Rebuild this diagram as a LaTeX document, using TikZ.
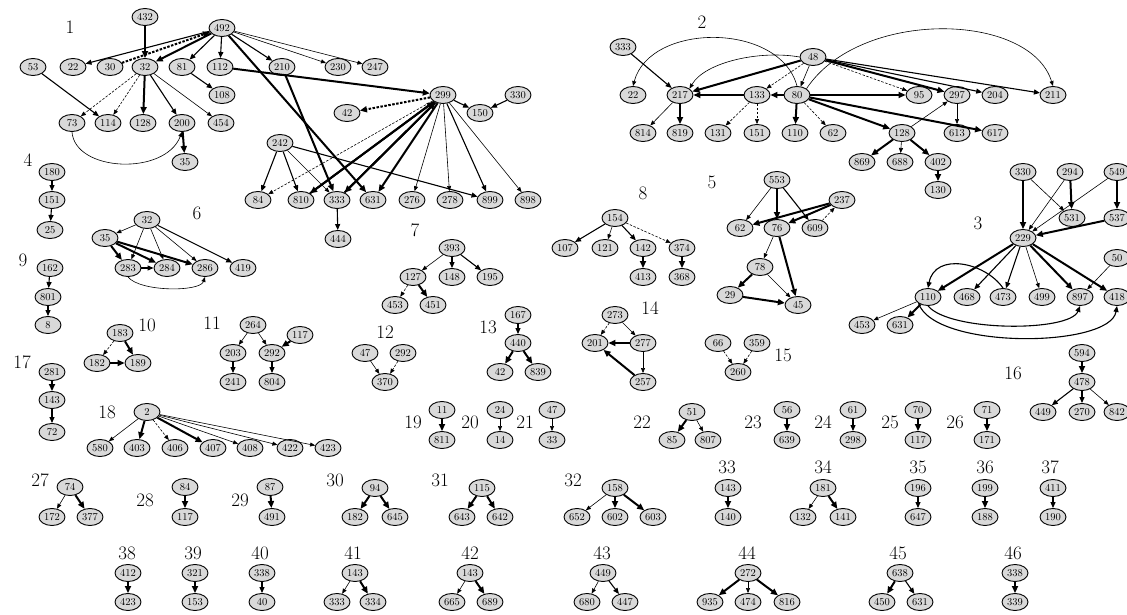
\documentclass[tikz,border=0pt]{standalone}
\usetikzlibrary{shapes.geometric,arrows.meta}
\begin{document}
\begin{tikzpicture}[x=1pt,y=-1pt,
  n/.style={ellipse,draw,line width=0.9pt,fill=gray!30,minimum width=26pt,minimum height=17pt,inner sep=0pt,font=\fontsize{10.5}{10.5}\selectfont},
  lab/.style={inner sep=0pt,font=\fontsize{19}{19}\selectfont},
  e1/.style={-{Triangle[length=5pt,width=4pt]},line width=0.6pt},
  e2/.style={-{Triangle[length=6pt,width=5pt]},line width=1.1pt},
  e3/.style={-{Triangle[length=7pt,width=6pt]},line width=2pt},
  dsh/.style={dash pattern=on 2.5pt off 1.5pt}]
\useasboundingbox[fill=white] (0,0) rectangle (1127,615);
% ---------- component 1
\node[lab] (L1) at (70,27) {1};
\node[n] (a432) at (145,17) {432};
\node[n] (a492) at (222,28) {492};
\node[n] (a53) at (33,67) {53};
\node[n] (a22) at (73,67) {22};
\node[n] (a30) at (110,67) {30};
\node[n] (a32) at (145,67) {32};
\node[n] (a81) at (182,67) {81};
\node[n] (a112) at (220,67) {112};
\node[n] (a210) at (282,67) {210};
\node[n] (a230) at (338,67) {230};
\node[n] (a247) at (375,67) {247};
\node[n] (a108) at (222,95) {108};
\node[n] (a73) at (72,123) {73};
\node[n] (a114) at (108,123) {114};
\node[n] (a128) at (143,123) {128};
\node[n] (a200) at (182,123) {200};
\node[n] (a454) at (221,123) {454};
\node[n] (a35) at (185,162) {35};
\node[n] (a299) at (443,95) {299};
\node[n] (a330) at (518,95) {330};
\node[n] (a150) at (480,113) {150};
\node[n] (a42) at (347,113) {42};
\node[n] (a242) at (280,143) {242};
\node[n] (a84) at (258,200) {84};
\node[n] (a810) at (301,200) {810};
\node[n] (a333) at (337,200) {333};
\node[n] (a631) at (373,200) {631};
\node[n] (a276) at (412,200) {276};
\node[n] (a278) at (450,200) {278};
\node[n] (a899) at (490,200) {899};
\node[n] (a898) at (528,200) {898};
\node[n] (a444) at (338,239) {444};
\draw[e3] (a432) -- (a32);
\draw[e2] (a492) -- (a22);
\draw[e3,dsh] (a30) -- (a492);
\draw[e3] (a492) -- (a32);
\draw[e2] (a492) -- (a81);
\draw[e2] (a492) -- (a112);
\draw[e2] (a492) -- (a210);
\draw[e1] (a492) -- (a230);
\draw[e1] (a492) -- (a247);
\draw[e3] (a492) -- (a631);
\draw[e3] (a210) -- (a333);
\draw[e3] (a112) -- (a299);
\draw[e1,dsh] (a32) -- (a73);
\draw[e1,dsh] (a32) -- (a114);
\draw[e3] (a32) -- (a128);
\draw[e2] (a32) -- (a200);
\draw[e1] (a32) -- (a454);
\draw[e2] (a53) -- (a114);
\draw[e2] (a81) -- (a108);
\draw[e1] (a73.south) .. controls (75,172) and (165,176) .. (a200.south);
\draw[e3] (a200) -- (a35);
\draw[e3,dsh] (a299) -- (a42);
\draw[e2] (a299) -- (a150);
\draw[e2] (a330) -- (a150);
\draw[e1,dsh] (a299) -- (a84);
\draw[e3] (a299) -- (a810);
\draw[e3] (a810) -- (a299);
\draw[e3] (a299) -- (a333);
\draw[e3] (a333) -- (a299);
\draw[e3] (a299) -- (a631);
\draw[e1] (a299) -- (a276);
\draw[e1] (a299) -- (a278);
\draw[e2] (a299) -- (a899);
\draw[e1] (a299) -- (a898);
\draw[e2] (a242) -- (a84);
\draw[e2] (a242) -- (a810);
\draw[e1] (a242) -- (a333);
\draw[e2] (a242) -- (a899);
\draw[e2] (a333) -- (a444);
% ---------- component 2
\node[lab] (L2) at (702,22) {2};
\node[n] (b333) at (623,47) {333};
\node[n] (b48) at (813,57) {48};
\node[n] (b22) at (633,95) {22};
\node[n] (b217) at (680,95) {217};
\node[n] (b133) at (757,95) {133};
\node[n] (b80) at (797,95) {80};
\node[n] (b95) at (919,95) {95};
\node[n] (b297) at (957,95) {297};
\node[n] (b204) at (995,95) {204};
\node[n] (b211) at (1053,95) {211};
\node[n] (b814) at (643,133) {814};
\node[n] (b819) at (680,133) {819};
\node[n] (b131) at (718,133) {131};
\node[n] (b151) at (757,133) {151};
\node[n] (b110) at (795,133) {110};
\node[n] (b62) at (833,133) {62};
\node[n] (b128) at (902,133) {128};
\node[n] (b613) at (957,133) {613};
\node[n] (b617) at (995,133) {617};
\node[n] (b869) at (862,162) {869};
\node[n] (b688) at (900,162) {688};
\node[n] (b402) at (938,162) {402};
\node[n] (b130) at (938,190) {130};
\draw[e2] (b333) -- (b217);
\draw[e3] (b48) -- (b217);
\draw[e1] (b48.west) .. controls (760,50) and (705,62) .. (b217.north east);
\draw[e1] (b80.north) .. controls (780,22) and (650,22) .. (b22.north);
\draw[e1] (b80.north east) .. controls (860,8) and (1030,12) .. (b211.north);
\draw[e1,dsh] (b48) -- (b133);
\draw[e1] (b48) -- (b80);
\draw[e1,dsh] (b48) -- (b95);
\draw[e3] (b48) -- (b297);
\draw[e2] (b48) -- (b204);
\draw[e2] (b48) -- (b211);
\draw[e3] (b133) -- (b217);
\draw[e3] (b80) -- (b133);
\draw[e1] (b217) -- (b814);
\draw[e3] (b217) -- (b819);
\draw[e1,dsh] (b133) -- (b131);
\draw[e1,dsh] (b133) -- (b151);
\draw[e3] (b80) -- (b110);
\draw[e1,dsh] (b80) -- (b62);
\draw[e3] (b80) -- (b95);
\draw[e3] (b80) -- (b128);
\draw[e3] (b80) -- (b617);
\draw[e1] (b128) -- (b297);
\draw[e1] (b297) -- (b613);
\draw[e3] (b128) -- (b869);
\draw[e1] (b128) -- (b688);
\draw[e3] (b128) -- (b402);
\draw[e3] (b402) -- (b130);
% ---------- component 3
\node[lab] (L3) at (978,223) {3};
\node[n] (c330) at (1023,172) {330};
\node[n] (c294) at (1070,172) {294};
\node[n] (c549) at (1117,172) {549};
\node[n] (c531) at (1072,218) {531};
\node[n] (c537) at (1117,218) {537};
\node[n] (c229) at (1023,238) {229};
\node[n] (c50) at (1117,258) {50};
\node[n] (c110) at (928,297) {110};
\node[n] (c468) at (967,297) {468};
\node[n] (c473) at (1003,297) {473};
\node[n] (c499) at (1042,297) {499};
\node[n] (c897) at (1080,297) {897};
\node[n] (c418) at (1117,297) {418};
\node[n] (c453) at (862,325) {453};
\node[n] (c631) at (900,325) {631};
\draw[e3] (c330) -- (c229);
\draw[e1] (c294) -- (c229);
\draw[e1] (c330) -- (c531);
\draw[e3] (c294) -- (c531);
\draw[e1] (c549) -- (c229);
\draw[e3] (c549) -- (c537);
\draw[e3] (c537) -- (c229);
\draw[e3] (c229) -- (c110);
\draw[e2] (c229) -- (c468);
\draw[e2] (c229) -- (c473);
\draw[e1] (c229) -- (c499);
\draw[e3] (c229) -- (c897);
\draw[e3] (c229) -- (c418);
\draw[e1] (c50) -- (c897);
\draw[e2] (c473.north) .. controls (985,262) and (935,252) .. (c110.north);
\draw[e2] (c110.south) .. controls (950,332) and (1070,332) .. (c897.south);
\draw[e2] (c110.south west) .. controls (935,350) and (1110,348) .. (c418.south);
\draw[e1] (c110) -- (c453);
\draw[e3] (c110) -- (c631);
% ---------- component 4
\node[lab] (L4) at (28,160) {4};
\node[n] (d180) at (52,172) {180};
\node[n] (d151) at (52,200) {151};
\node[n] (d25) at (50,230) {25};
\draw[e2] (d180) -- (d151);
\draw[e2] (d151) -- (d25);
% ---------- component 5
\node[lab] (L5) at (712,182) {5};
\node[n] (e553) at (777,180) {553};
\node[n] (e237) at (842,200) {237};
\node[n] (e62) at (740,228) {62};
\node[n] (e76) at (777,228) {76};
\node[n] (e609) at (815,228) {609};
\node[n] (e78) at (760,267) {78};
\node[n] (e29) at (730,295) {29};
\node[n] (e45) at (798,305) {45};
\draw[e1] (e553) -- (e62);
\draw[e3] (e553) -- (e76);
\draw[e2] (e553) -- (e609);
\draw[e3] (e237) -- (e62);
\draw[e3] (e237) -- (e76);
\draw[e1,dsh] (e609) -- (e237);
\draw[e1] (e76) -- (e78);
\draw[e3] (e76) -- (e45);
\draw[e3] (e78) -- (e29);
\draw[e1] (e78) -- (e45);
\draw[e3] (e29) -- (e45);
% ---------- component 6
\node[lab] (L6) at (197,213) {6};
\node[n] (f32) at (147,220) {32};
\node[n] (f35) at (105,238) {35};
\node[n] (f283) at (128,268) {283};
\node[n] (f284) at (167,268) {284};
\node[n] (f286) at (205,268) {286};
\node[n] (f419) at (243,268) {419};
\draw[e1] (f32) -- (f35);
\draw[e1] (f32) -- (f283);
\draw[e1] (f32) -- (f284);
\draw[e1] (f32) -- (f286);
\draw[e2] (f32) -- (f419);
\draw[e3] (f35) -- (f283);
\draw[e3] (f35) -- (f284);
\draw[e3] (f35) -- (f286);
\draw[e2] (f283) -- (f284);
\draw[e1] (f283.south) .. controls (140,292) and (200,292) .. (f286.south);
% ---------- component 7
\node[lab] (L7) at (415,230) {7};
\node[n] (g393) at (452,248) {393};
\node[n] (g127) at (413,277) {127};
\node[n] (g148) at (452,277) {148};
\node[n] (g195) at (490,277) {195};
\node[n] (g453) at (395,305) {453};
\node[n] (g451) at (433,305) {451};
\draw[e1] (g393) -- (g127);
\draw[e2] (g393) -- (g148);
\draw[e2] (g393) -- (g195);
\draw[e1,dsh] (g127) -- (g453);
\draw[e3] (g127) -- (g451);
% ---------- component 8
\node[lab] (L8) at (643,193) {8};
\node[n] (h154) at (615,218) {154};
\node[n] (h107) at (565,248) {107};
\node[n] (h121) at (605,248) {121};
\node[n] (h142) at (643,248) {142};
\node[n] (h374) at (682,248) {374};
\node[n] (h413) at (643,277) {413};
\node[n] (h368) at (682,277) {368};
\draw[e2] (h154) -- (h107);
\draw[e1] (h154) -- (h121);
\draw[e2] (h154) -- (h142);
\draw[e1,dsh] (h154) -- (h374);
\draw[e3] (h142) -- (h413);
\draw[e3] (h374) -- (h368);
% ---------- component 9
\node[lab] (L9) at (23,260) {9};
\node[n] (i162) at (50,268) {162};
\node[n] (i801) at (48,297) {801};
\node[n] (i8) at (48,325) {8};
\draw[e2] (i162) -- (i801);
\draw[e2] (i801) -- (i8);
% ---------- component 10
\node[lab] (L10) at (147,325) {10};
\node[n] (j183) at (120,333) {183};
\node[n] (j182) at (97,363) {182};
\node[n] (j189) at (138,363) {189};
\draw[e1,dsh] (j183) -- (j182);
\draw[e3] (j183) -- (j189);
\draw[e3] (j182) -- (j189);
% ---------- component 11
\node[lab] (L11) at (212,323) {11};
\node[n] (k264) at (253,325) {264};
\node[n] (k117) at (300,335) {117};
\node[n] (k203) at (233,353) {203};
\node[n] (k292) at (272,353) {292};
\node[n] (k241) at (233,382) {241};
\node[n] (k804) at (272,382) {804};
\draw[e1] (k264) -- (k203);
\draw[e1] (k264) -- (k292);
\draw[e3] (k117) -- (k292);
\draw[e2] (k203) -- (k241);
\draw[e2] (k292) -- (k804);
% ---------- component 12
\node[lab] (L12) at (385,332) {12};
\node[n] (l47) at (365,353) {47};
\node[n] (l292) at (403,353) {292};
\node[n] (l370) at (385,382) {370};
\draw[e1] (l47) -- (l370);
\draw[e1,dsh] (l292) -- (l370);
% ---------- component 13
\node[lab] (L13) at (488,327) {13};
\node[n] (m167) at (518,315) {167};
\node[n] (m440) at (518,343) {440};
\node[n] (m42) at (500,372) {42};
\node[n] (m839) at (538,372) {839};
\draw[e2] (m167) -- (m440);
\draw[e3] (m440) -- (m42);
\draw[e3] (m440) -- (m839);
% ---------- component 14
\node[lab] (L14) at (650,308) {14};
\node[n] (o273) at (615,315) {273};
\node[n] (o201) at (595,343) {201};
\node[n] (o277) at (643,343) {277};
\node[n] (o257) at (643,382) {257};
\draw[e1,dsh] (o273) -- (o201);
\draw[e1] (o273) -- (o277);
\draw[e3] (o277) -- (o201);
\draw[e1] (o277) -- (o257);
\draw[e3] (o257) -- (o201);
% ---------- component 15
\node[lab] (L15) at (783,355) {15};
\node[n] (p66) at (718,343) {66};
\node[n] (p359) at (757,343) {359};
\node[n] (p260) at (738,372) {260};
\draw[e1,dsh] (p66) -- (p260);
\draw[e1,dsh] (p359) -- (p260);
% ---------- component 16
\node[lab] (L16) at (1013,373) {16};
\node[n] (q594) at (1082,353) {594};
\node[n] (q478) at (1082,382) {478};
\node[n] (q449) at (1043,412) {449};
\node[n] (q270) at (1082,412) {270};
\node[n] (q842) at (1117,412) {842};
\draw[e3] (q594) -- (q478);
\draw[e2] (q478) -- (q449);
\draw[e2] (q478) -- (q270);
\draw[e1] (q478) -- (q842);
% ---------- component 17
\node[lab] (L17) at (22,362) {17};
\node[n] (r281) at (52,372) {281};
\node[n] (r143) at (52,400) {143};
\node[n] (r72) at (52,432) {72};
\draw[e3] (r281) -- (r143);
\draw[e2] (r143) -- (r72);
% ---------- component 18
\node[lab] (L18) at (107,412) {18};
\node[n] (s2) at (147,412) {2};
\node[n] (s580) at (100,448) {580};
\node[n] (s403) at (137,448) {403};
\node[n] (s406) at (175,448) {406};
\node[n] (s407) at (213,448) {407};
\node[n] (s408) at (250,448) {408};
\node[n] (s422) at (290,448) {422};
\node[n] (s423) at (328,448) {423};
\draw[e1] (s2) -- (s580);
\draw[e3] (s2) -- (s403);
\draw[e1,dsh] (s2) -- (s406);
\draw[e3] (s2) -- (s407);
\draw[e1] (s2) -- (s408);
\draw[e1] (s2) -- (s422);
\draw[e1] (s2) -- (s423);
% ---------- small components 19-26
\node[lab] (L19) at (413,422) {19};
\node[n] (t11) at (442,410) {11};
\node[n] (t811) at (442,440) {811};
\draw[e3] (t11) -- (t811);
\node[lab] (L20) at (470,422) {20};
\node[n] (u24) at (500,410) {24};
\node[n] (u14) at (500,440) {14};
\draw[e1] (u24) -- (u14);
\node[lab] (L21) at (525,422) {21};
\node[n] (v47) at (552,410) {47};
\node[n] (v33) at (552,440) {33};
\draw[e1] (v47) -- (v33);
\node[lab] (L22) at (642,422) {22};
\node[n] (w51) at (692,412) {51};
\node[n] (w85) at (672,440) {85};
\node[n] (w807) at (708,440) {807};
\draw[e3] (w51) -- (w85);
\draw[e1] (w51) -- (w807);
\node[lab] (L23) at (753,422) {23};
\node[n] (x56) at (787,410) {56};
\node[n] (x639) at (787,440) {639};
\draw[e3] (x56) -- (x639);
\node[lab] (L24) at (823,422) {24};
\node[n] (y61) at (853,410) {61};
\node[n] (y298) at (853,440) {298};
\draw[e2] (y61) -- (y298);
\node[lab] (L25) at (890,422) {25};
\node[n] (z70) at (918,410) {70};
\node[n] (z117) at (918,440) {117};
\draw[e3] (z70) -- (z117);
\node[lab] (L26) at (955,422) {26};
\node[n] (aa71) at (987,410) {71};
\node[n] (aa171) at (987,440) {171};
\draw[e3] (aa71) -- (aa171);
% ---------- components 27-37
\node[lab] (L27) at (40,480) {27};
\node[n] (ab74) at (70,487) {74};
\node[n] (ab172) at (52,517) {172};
\node[n] (ab377) at (90,517) {377};
\draw[e1] (ab74) -- (ab172);
\draw[e3] (ab74) -- (ab377);
\node[lab] (L28) at (145,500) {28};
\node[n] (ac84) at (185,487) {84};
\node[n] (ac117) at (185,517) {117};
\draw[e3] (ac84) -- (ac117);
\node[lab] (L29) at (240,500) {29};
\node[n] (ad87) at (270,487) {87};
\node[n] (ad491) at (272,517) {491};
\draw[e3] (ad87) -- (ad491);
\node[lab] (L30) at (335,480) {30};
\node[n] (ae94) at (375,488) {94};
\node[n] (ae182) at (355,517) {182};
\node[n] (ae645) at (395,517) {645};
\draw[e3] (ae94) -- (ae182);
\draw[e3] (ae94) -- (ae645);
\node[lab] (L31) at (440,480) {31};
\node[n] (af115) at (482,488) {115};
\node[n] (af643) at (462,517) {643};
\node[n] (af642) at (500,517) {642};
\draw[e3] (af115) -- (af643);
\draw[e3] (af115) -- (af642);
\node[lab] (L32) at (573,480) {32};
\node[n] (ag158) at (615,488) {158};
\node[n] (ag652) at (577,517) {652};
\node[n] (ag602) at (615,517) {602};
\node[n] (ag603) at (653,517) {603};
\draw[e1] (ag158) -- (ag652);
\draw[e3] (ag158) -- (ag602);
\draw[e3] (ag158) -- (ag603);
\node[lab] (L33) at (727,467) {33};
\node[n] (ah143) at (728,488) {143};
\node[n] (ah140) at (728,517) {140};
\draw[e3] (ah143) -- (ah140);
\node[lab] (L34) at (823,467) {34};
\node[n] (ai181) at (823,488) {181};
\node[n] (ai132) at (803,517) {132};
\node[n] (ai141) at (843,517) {141};
\draw[e1] (ai181) -- (ai132);
\draw[e3] (ai181) -- (ai141);
\node[lab] (L35) at (918,467) {35};
\node[n] (aj196) at (918,488) {196};
\node[n] (aj647) at (918,517) {647};
\draw[e2] (aj196) -- (aj647);
\node[lab] (L36) at (985,467) {36};
\node[n] (ak199) at (985,488) {199};
\node[n] (ak188) at (985,517) {188};
\draw[e3] (ak199) -- (ak188);
\node[lab] (L37) at (1050,467) {37};
\node[n] (al411) at (1053,488) {411};
\node[n] (al190) at (1053,517) {190};
\draw[e2] (al411) -- (al190);
% ---------- components 38-46
\node[lab] (L38) at (127,553) {38};
\node[n] (am412) at (128,573) {412};
\node[n] (am423) at (128,602) {423};
\draw[e3] (am412) -- (am423);
\node[lab] (L39) at (193,553) {39};
\node[n] (an321) at (195,573) {321};
\node[n] (an153) at (195,602) {153};
\draw[e3] (an321) -- (an153);
\node[lab] (L40) at (260,553) {40};
\node[n] (ao338) at (262,573) {338};
\node[n] (ao40) at (262,602) {40};
\draw[e2] (ao338) -- (ao40);
\node[lab] (L41) at (353,553) {41};
\node[n] (ap143) at (355,573) {143};
\node[n] (ap333) at (337,602) {333};
\node[n] (ap334) at (373,602) {334};
\draw[e1] (ap143) -- (ap333);
\draw[e3] (ap143) -- (ap334);
\node[lab] (L42) at (470,553) {42};
\node[n] (aq143) at (470,573) {143};
\node[n] (aq665) at (452,602) {665};
\node[n] (aq689) at (490,602) {689};
\draw[e1] (aq143) -- (aq665);
\draw[e3] (aq143) -- (aq689);
\node[lab] (L43) at (602,553) {43};
\node[n] (ar449) at (603,573) {449};
\node[n] (ar680) at (587,602) {680};
\node[n] (ar447) at (625,602) {447};
\draw[e1] (ar449) -- (ar680);
\draw[e2] (ar449) -- (ar447);
\node[lab] (L44) at (747,553) {44};
\node[n] (as272) at (748,573) {272};
\node[n] (as935) at (710,602) {935};
\node[n] (as474) at (748,602) {474};
\node[n] (as816) at (787,602) {816};
\draw[e3] (as272) -- (as935);
\draw[e1] (as272) -- (as474);
\draw[e3] (as272) -- (as816);
\node[lab] (L45) at (898,553) {45};
\node[n] (at638) at (900,573) {638};
\node[n] (at450) at (882,602) {450};
\node[n] (at631) at (920,602) {631};
\draw[e3] (at638) -- (at450);
\draw[e2] (at638) -- (at631);
\node[lab] (L46) at (1013,553) {46};
\node[n] (au338) at (1015,573) {338};
\node[n] (au339) at (1015,602) {339};
\draw[e3] (au338) -- (au339);
\end{tikzpicture}
\end{document}
